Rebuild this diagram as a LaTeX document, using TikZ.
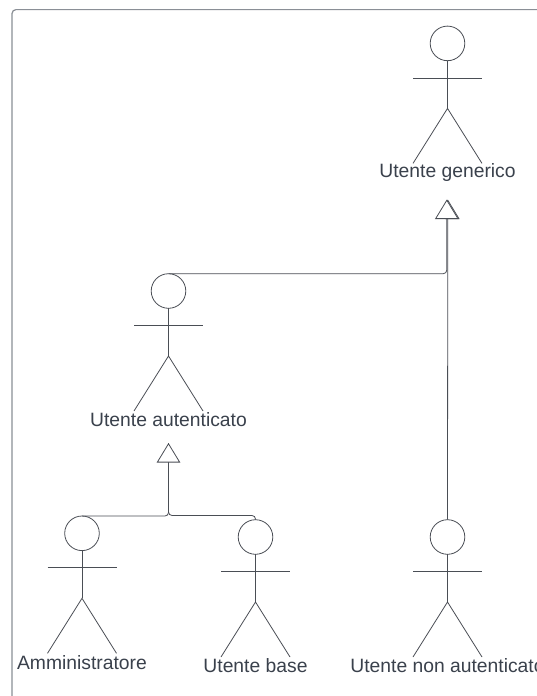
\documentclass[tikz,border=0pt]{standalone}
\usepackage{fontspec}
\setmainfont{Liberation Sans}
\usetikzlibrary{arrows.meta,calc}
\definecolor{inkline}{HTML}{4A4E55}
\definecolor{inktext}{HTML}{3A414C}
\definecolor{framec}{HTML}{8A8F96}
\tikzset{
  x=1pt,y=-1pt,
  stick/.style={draw=inkline,line width=0.8pt},
  headc/.style={circle,draw=inkline,line width=0.8pt,minimum size=34.6pt,inner sep=0pt,outer sep=0pt},
  actorlabel/.style={text=inktext,font=\fontsize{19.3}{21}\selectfont,inner sep=0pt},
  genline/.style={draw=inkline,line width=0.8pt,rounded corners=3.5pt},
  gentip/.style={-{Triangle[open,length=19.5pt,width=23.5pt,line width=0.8pt,fill=white]}},
}
\newcommand{\actorfig}[4]{%
  \node[headc] (#1) at (#2,#3) {};
  \path (#1.center) ++(0,34.5) coordinate (#1arm) ++(0,30.5) coordinate (#1hip) ++(0,55) coordinate (#1foot);
  \draw[stick] (#1.south) -- (#1hip);
  \draw[stick] ($(#1arm)+(-34.5,0)$) -- ($(#1arm)+(34.5,0)$);
  \draw[stick] ($(#1foot)+(-34.5,0)$) -- (#1hip) -- ($(#1foot)+(34.5,0)$);
  \node[actorlabel] (#1label) at ($(#1.center)+(0,129)$) {#4};
}
\begin{document}
\begin{tikzpicture}
\useasboundingbox (0,0) rectangle (537,696);
\clip (0,0) rectangle (537,696);
\fill[white] (0,0) rectangle (537,696);
\draw[draw=framec,line width=1.2pt,rounded corners=4pt] (12,730) -- (12,9.6) -- (560,9.6);
\actorfig{gen}{447.5}{43.4}{Utente generico}
\actorfig{aut}{168.5}{291}{Utente autenticato}
\actorfig{adm}{82}{533.3}{Amministratore}
\actorfig{bas}{255.5}{537}{Utente base}
\actorfig{non}{447.5}{537}{Utente non autenticato}
\coordinate (tipgen) at (447.8,199.5);
\coordinate (tipaut) at (168.5,443);
\coordinate (busb) at (168.5,515.5);
\draw[genline,gentip] (non.north) -- (tipgen);
\draw[genline,gentip] (aut.north) -| ([xshift=-1pt]tipgen);
\draw[genline] (adm.north) -| (tipaut);
\draw[genline,gentip] (bas.north) |- (busb) -- (tipaut);
\end{tikzpicture}
\end{document}
